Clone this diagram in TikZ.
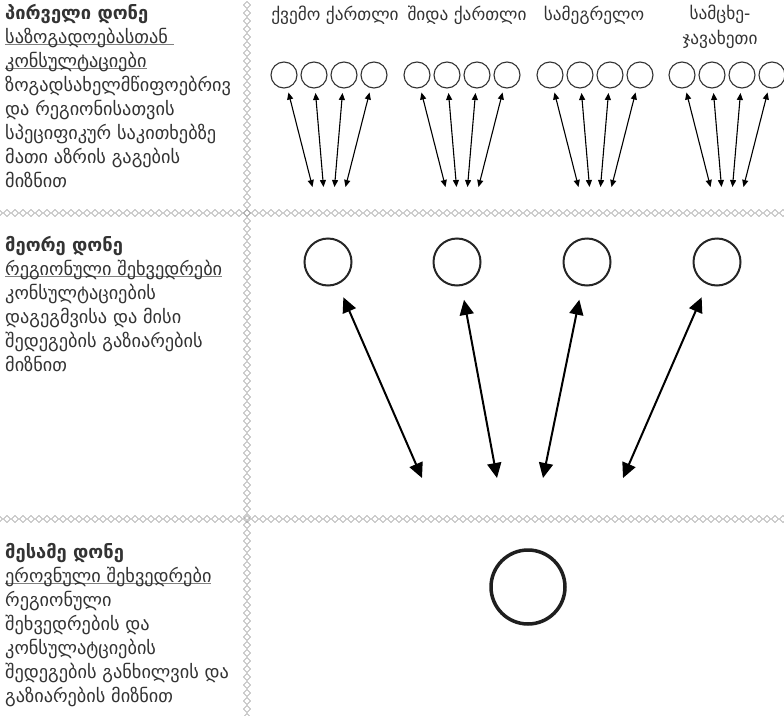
\documentclass[tikz,border=0pt]{standalone}
\usepackage{fontspec}
\setmainfont{DejaVu Sans}
\usetikzlibrary{arrows.meta}
\definecolor{inkgray}{HTML}{333333}
\definecolor{chaingray}{HTML}{9A9A9A}
\newcommand\baseul[1]{\setbox0\hbox{#1}\rlap{\color{gray}\rule[-1.2pt]{\wd0}{0.9pt}}\box0}
\tikzset{
	levelnote/.style={anchor=north west, inner sep=0pt, align=left, text=inkgray, font=\fontsize{18.3}{24}\selectfont},
	regionlbl/.style={text=inkgray, align=center, inner sep=0pt, font=\fontsize{17.3}{25}\selectfont},
	smallcirc/.style={circle, draw=inkgray, line width=1.1pt, minimum size=26pt, inner sep=0pt},
	midcirc/.style={circle, draw=black!85, line width=2pt, minimum size=47pt, inner sep=0pt},
	bigcirc/.style={circle, draw=black!88, line width=3.5pt, minimum size=74pt, inner sep=0pt},
	thinlink/.style={line width=1.1pt, {Triangle[length=7pt,width=6pt]}-{Triangle[length=7pt,width=6pt]}, shorten <=4.5pt},
	thicklink/.style={line width=2pt, {Triangle[length=15pt,width=14pt]}-{Triangle[length=15pt,width=14pt]}, shorten <=14pt},
	chainlink/.style={draw=chaingray, line width=0.6pt},
}
\begin{document}
\begin{tikzpicture}[x=1pt, y=-1pt]
	\useasboundingbox (0,0) rectangle (784,715);
	\foreach \y in {5,13,...,717} {
		\draw[chainlink] (247,\y) ++(-3.5,0) -- ++(3.5,-3.5) -- ++(3.5,3.5) -- ++(-3.5,3.5) -- cycle;
	}
	\foreach \row in {213,519} {
		\foreach \x in {-1,7,...,787} {
			\draw[chainlink] (\x,\row) ++(-3.5,0) -- ++(3.5,-3.5) -- ++(3.5,3.5) -- ++(-3.5,3.5) -- cycle;
		}
	}
	\node[levelnote] (lvl1) at (5,4) {\textbf{პირველი დონე}\\
		\baseul{საზოგადოებასთან\ }\\
		\baseul{კონსულტაციები}\\
		ზოგადსახელმწიფოებრივ\\
		და რეგიონისათვის\\
		სპეციფიკურ საკითხებზე\\
		მათი აზრის გაგების\\
		მიზნით};
	\node[levelnote] (lvl2) at (5,236) {\textbf{მეორე დონე}\\
		\baseul{რეგიონული შეხვედრები}\\
		კონსულტაციების\\
		დაგეგმვისა და მისი\\
		შედეგების გაზიარების\\
		მიზნით};
	\node[levelnote] (lvl3) at (5,543) {\textbf{მესამე დონე}\\
		\baseul{ეროვნული შეხვედრები}\\
		რეგიონული\\
		შეხვედრების და\\
		კონსულატციების\\
		შედეგების განხილვის და\\
		გაზიარების მიზნით};
	\node[regionlbl] (kk) at (335,15) {ქვემო ქართლი};
	\node[regionlbl] (sk) at (467,15) {შიდა ქართლი};
	\node[regionlbl] (sm) at (594,15) {სამეგრელო};
	\node[regionlbl] (sj) at (720,27) {სამცხე-\\ჯავახეთი};
	\foreach \g/\gx in {1/284,2/417,3/550,4/682} {
		\foreach \i in {1,...,4} {
			\node[smallcirc] (c\g\i) at (\gx+30*\i-30,75) {};
			\coordinate (p\g\i) at (\gx+11*\i+17.5,187);
			\draw[thinlink] (c\g\i) -- (p\g\i);
		}
	}
	\foreach \i/\mx/\qx in {1/328/422,2/457/497,3/587/543,4/717/623} {
		\node[midcirc] (m\i) at (\mx,262) {};
		\coordinate (q\i) at (\qx,478);
		\draw[thicklink] (m\i) -- (q\i);
	}
	\node[bigcirc] (nat) at (528,587) {};
\end{tikzpicture}
\end{document}
